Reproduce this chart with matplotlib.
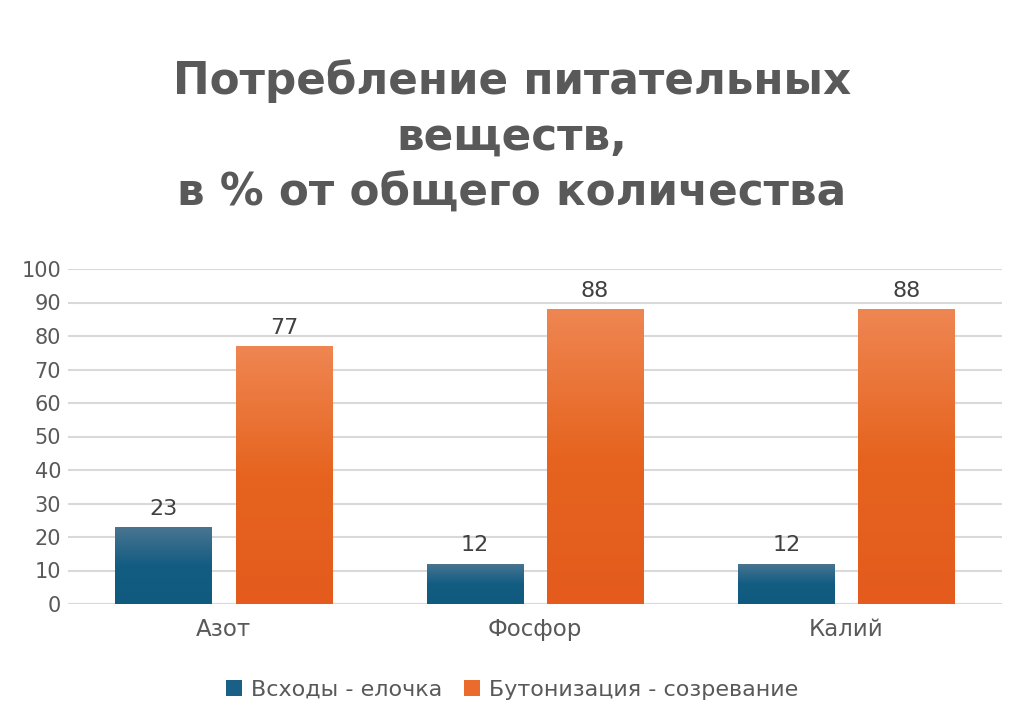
import matplotlib
matplotlib.use("Agg")
import matplotlib.pyplot as plt
import numpy as np
from matplotlib.colors import LinearSegmentedColormap
from matplotlib.patches import Patch

categories = ["Азот", "Фосфор", "Калий"]
series_names = ["Всходы - елочка", "Бутонизация - созревание"]
sprouts = [23, 12, 12]
budding = [77, 88, 88]

title = "Потребление питательных\nвеществ,\nв % от общего количества"

text_color = "#595959"
grid_color = "#d9d9d9"

# gradient maps: light at top, dark at bottom
blue_cmap = LinearSegmentedColormap.from_list("b", ["#105a80", "#135d83", "#4b7591"])
orange_cmap = LinearSegmentedColormap.from_list("o", ["#e45b1d", "#e6641f", "#ef8652"])

plt.rcParams["font.family"] = ["DejaVu Sans"]

fig = plt.figure(figsize=(10.24, 7.14), dpi=100)
ax = fig.add_axes([68 / 1024, 1 - 604 / 714, 934 / 1024, 335 / 714])

x = np.arange(len(categories))
width = 0.309
offset = 0.193

grad = np.linspace(0, 1, 256).reshape(-1, 1)

def gradient_bars(xs, values, cmap):
    bars = ax.bar(xs, values, width, color="none", zorder=2)
    for b in bars:
        bx, by = b.get_x(), b.get_y()
        bw, bh = b.get_width(), b.get_height()
        im = ax.imshow(grad, cmap=cmap, aspect="auto", origin="lower",
                       extent=[bx, bx + bw, by, by + bh], zorder=2)
        im.set_clip_path(b)
    return bars

gradient_bars(x - offset, sprouts, blue_cmap)
gradient_bars(x + offset, budding, orange_cmap)

for xi, v in zip(x - offset, sprouts):
    ax.text(xi, v + 2.5, str(v), ha="center", va="bottom", fontsize=16, color="#404040")
for xi, v in zip(x + offset, budding):
    ax.text(xi, v + 2.5, str(v), ha="center", va="bottom", fontsize=16, color="#404040")

ax.set_xlim(-0.5, 2.5)
ax.set_ylim(0, 100)
ax.set_yticks(range(0, 101, 10))
ax.set_xticks(x)
ax.set_xticklabels(categories)
ax.tick_params(axis="both", length=0, labelsize=15, colors=text_color)
ax.tick_params(axis="x", pad=10, labelsize=16.5)
ax.tick_params(axis="y", pad=5)
ax.grid(axis="y", color=grid_color, linewidth=1.5, zorder=0)
ax.set_axisbelow(True)
for s in ax.spines.values():
    s.set_visible(False)
ax.axhline(0, color=grid_color, linewidth=1.5, zorder=1)

fig.text(0.5, 1 - 137 / 714, title, ha="center", va="center", fontsize=31.5,
         fontweight="heavy", color=text_color, family=["DejaVu Sans"],
         linespacing=1.38)

handles = [Patch(facecolor="#1a5f85"), Patch(facecolor="#ea6b2c")]
leg = fig.legend(handles, series_names, loc="center", bbox_to_anchor=(0.5, 1 - 690 / 714),
                 ncol=2, frameon=False, fontsize=16, handlelength=0.7, handleheight=0.7,
                 handletextpad=0.4, columnspacing=1.0)
for t in leg.get_texts():
    t.set_color(text_color)

fig.savefig("out.png", dpi=100)
